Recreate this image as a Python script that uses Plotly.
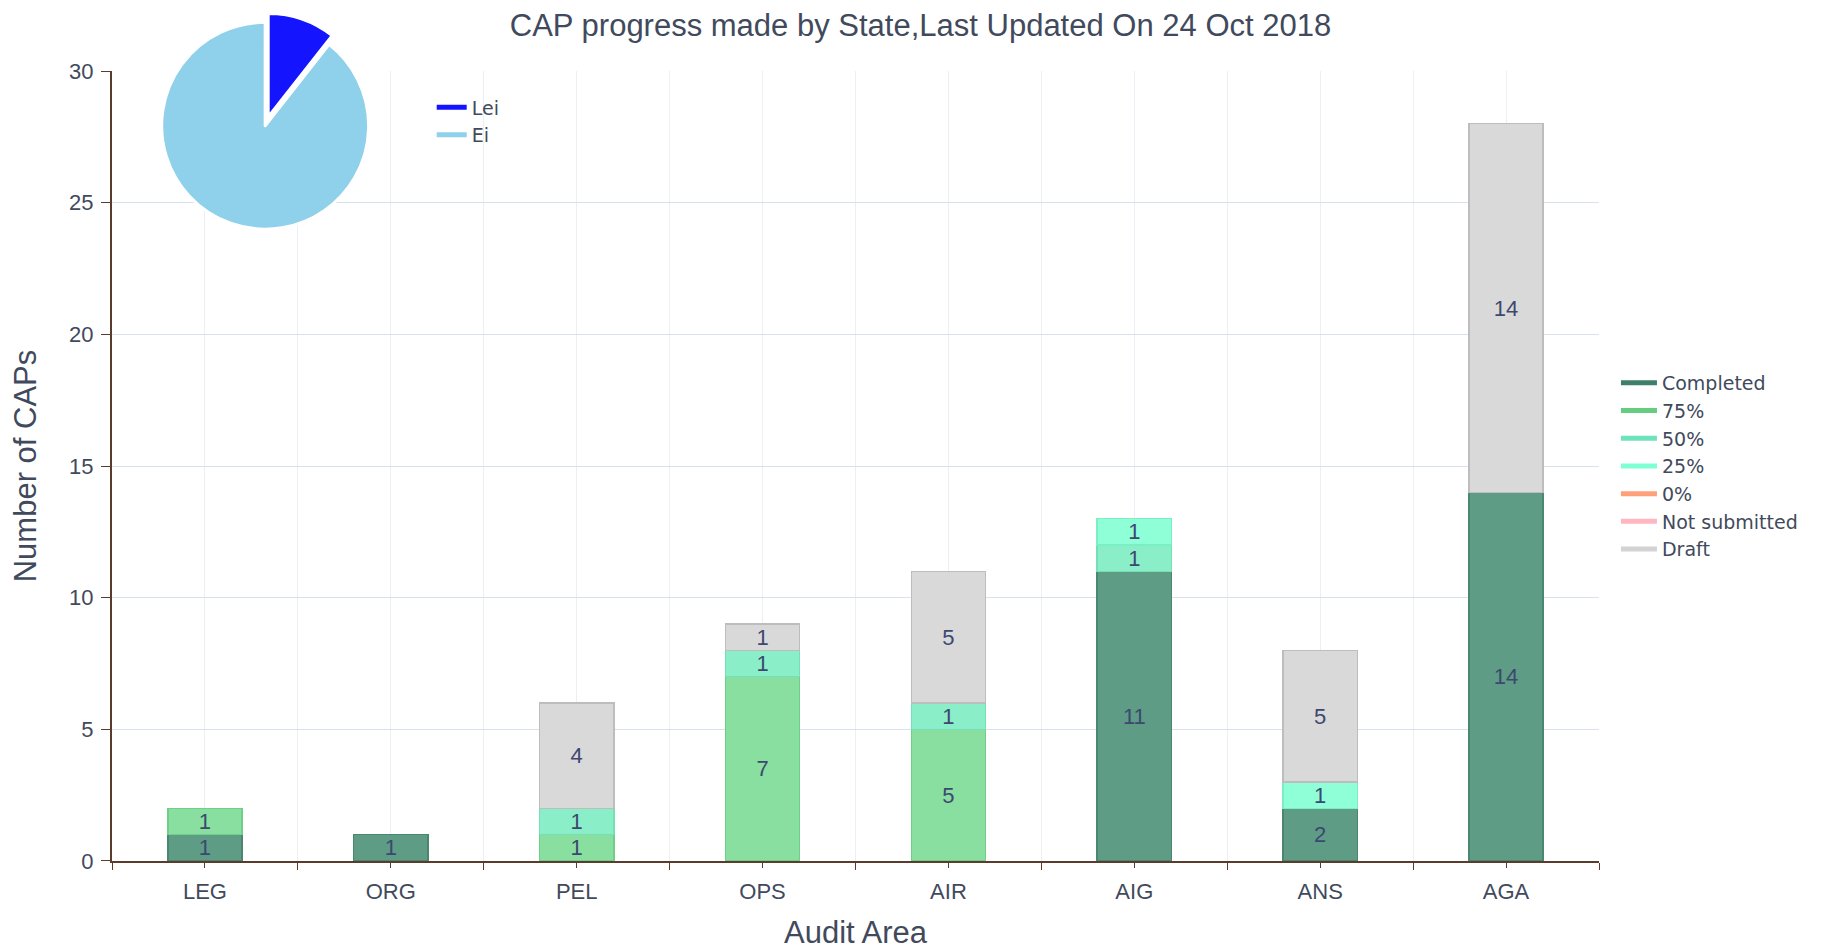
import plotly.graph_objects as go

# ---------------------------------------------------------------------------
# data
# ---------------------------------------------------------------------------
AREAS = ["LEG", "ORG", "PEL", "OPS", "AIR", "AIG", "ANS", "AGA"]

COMPLETED = [1, 1, 0, 0, 0, 11, 2, 14]
P75 = [1, 0, 1, 7, 5, 0, 0, 0]
P50 = [0, 0, 1, 1, 1, 1, 0, 0]
P25 = [0, 0, 0, 0, 0, 1, 1, 0]
P0 = [0, 0, 0, 0, 0, 0, 0, 0]
NOT_SUBMITTED = [0, 0, 0, 0, 0, 0, 0, 0]
DRAFT = [0, 0, 4, 1, 5, 0, 5, 14]

PIE_LABELS = ["Lei", "Ei"]
PIE_VALUES = [10.6, 89.4]

# ---------------------------------------------------------------------------
# style
# ---------------------------------------------------------------------------
FONT = "Liberation Sans, Arial, sans-serif"
LEGEND_FONT = "DejaVu Sans, sans-serif"
TEXT_COLOR = "#414a5c"
AXIS_COLOR = "#5a3b2c"

# name, values, bar fill, bar outline, legend colour
SERIES = [
    ("Completed", COMPLETED, "#5e9c85", "#4a8670", "#3f7f69"),
    ("75%", P75, "#88df9f", "#6fcf88", "#66cc80"),
    ("50%", P50, "#8aefc8", "#74e0b6", "#6de3bb"),
    ("25%", P25, "#8effd6", "#7aeec4", "#7fffd4"),
    ("0%", P0, "#ffa982", "#f09070", "#ffa07a"),
    ("Not submitted", NOT_SUBMITTED, "#ffbfc9", "#f0a8b4", "#ffb6c1"),
    ("Draft", DRAFT, "#d9d9d9", "#bdbdbd", "#d3d3d3"),
]

PIE_COLORS = ["#1414ff", "#8fd0ea"]

x_idx = list(range(len(AREAS)))

fig = go.Figure()

for name, vals, fill, outline, _ in SERIES:
    fig.add_trace(
        go.Bar(
            x=x_idx,
            y=[v if v else None for v in vals],
            name=name,
            text=[str(v) if v else "" for v in vals],
            textposition="inside",
            insidetextanchor="middle",
            textangle=0,
            textfont=dict(size=22, color="#3d4870", family=FONT),
            marker=dict(color=fill, line=dict(color=outline, width=1.5)),
            width=0.4,
            showlegend=False,
            hoverinfo="skip",
        )
    )

# legend entries drawn as short thick lines
for name, _, _, _, leg_color in SERIES:
    fig.add_trace(
        go.Scatter(
            x=[None], y=[None], mode="lines", name=name,
            line=dict(color=leg_color, width=5),
            legend="legend",
        )
    )

fig.add_trace(
    go.Pie(
        labels=PIE_LABELS,
        values=PIE_VALUES,
        sort=False,
        direction="clockwise",
        rotation=0,
        pull=[0.09, 0],
        marker=dict(colors=PIE_COLORS, line=dict(color="white", width=3)),
        textinfo="none",
        hoverinfo="label+percent",
        showlegend=False,
        domain=dict(x=[0.027, 0.179], y=[0.7315, 0.9965]),
    )
)

for lab, col in zip(PIE_LABELS, PIE_COLORS):
    fig.add_trace(
        go.Scatter(
            x=[None], y=[None], mode="lines", name=lab,
            line=dict(color=col, width=5),
            legend="legend2",
        )
    )

fig.update_layout(
    width=1825,
    height=948,
    barmode="stack",
    plot_bgcolor="white",
    paper_bgcolor="white",
    font=dict(family=FONT, color=TEXT_COLOR, size=22),
    margin=dict(l=104, r=234, t=2, b=95, autoexpand=False),
    title=dict(
        text="CAP progress made by State,Last Updated On 24 Oct 2018",
        x=0.5, xanchor="center", xref="container",
        y=1 - 6 / 948, yanchor="top", yref="container",
        pad=dict(t=0, b=0),
        font=dict(size=31, color=TEXT_COLOR, family=FONT),
    ),
    uniformtext=dict(minsize=22, mode="show"),
    legend=dict(
        x=1.0114, xanchor="left", y=0.584, yanchor="top",
        traceorder="normal", itemwidth=36,
        font=dict(size=19, color=TEXT_COLOR, family=LEGEND_FONT),
        bgcolor="rgba(0,0,0,0)", tracegroupgap=0,
    ),
    legend2=dict(
        x=0.215, xanchor="left", y=0.908, yanchor="top",
        traceorder="normal",
        font=dict(size=19, color=TEXT_COLOR, family=LEGEND_FONT),
        bgcolor="rgba(0,0,0,0)",
    ),
    xaxis=dict(
        automargin=False,
        range=[-0.5, len(AREAS) - 0.5],
        tickmode="array",
        tickvals=x_idx,
        ticktext=AREAS,
        showgrid=True,
        gridcolor="#eceff3",
        showline=True,
        linecolor=AXIS_COLOR,
        linewidth=2,
        ticks="outside",
        ticklen=5,
        tickcolor=AXIS_COLOR,
        tickfont=dict(size=22),
        ticklabelstandoff=5,
        zeroline=False,
        minor=dict(
            tickmode="array",
            tickvals=[i - 0.5 for i in range(len(AREAS) + 1)],
            showgrid=True,
            gridcolor="#eceff3",
            ticks="outside",
            ticklen=7,
            tickcolor=AXIS_COLOR,
        ),
        title=dict(text="Audit Area", font=dict(size=31), standoff=18),
    ),
    yaxis=dict(
        automargin=False,
        domain=[0, 0.9283],
        range=[0, 30],
        dtick=5,
        showgrid=True,
        gridcolor="#d9e1ec",
        showline=True,
        linecolor=AXIS_COLOR,
        linewidth=2,
        ticks="outside",
        ticklen=9,
        tickcolor=AXIS_COLOR,
        tickfont=dict(size=22),
        ticklabelstandoff=3,
        zeroline=False,
        title=dict(text="Number of CAPs", font=dict(size=31), standoff=27),
    ),
)

fig.write_html("out.html")
